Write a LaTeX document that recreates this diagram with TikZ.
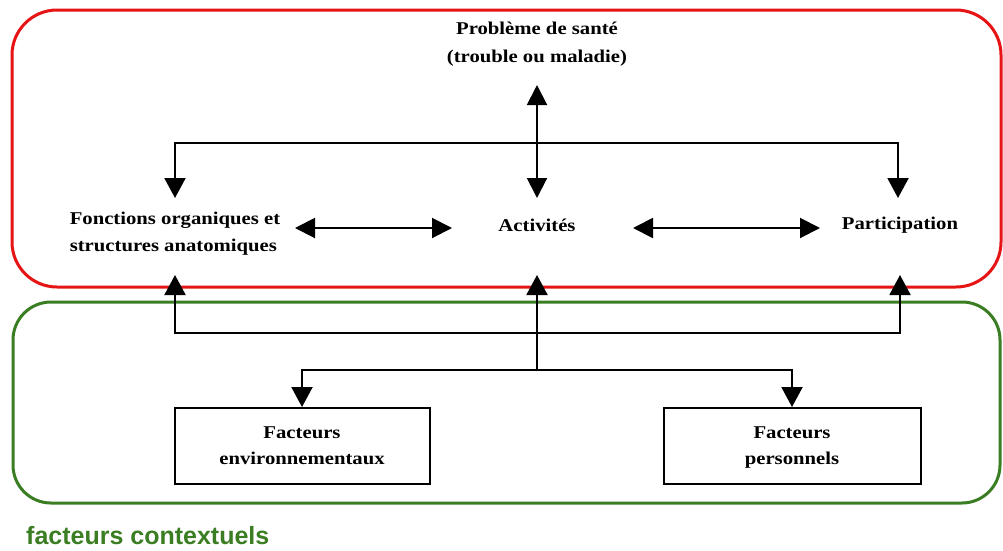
\documentclass[tikz,border=0pt]{standalone}
\usepackage{fontspec}
\setmainfont{Liberation Serif}
\newfontfamily\scanfont[FakeStretch=1.15]{Liberation Serif}
\newfontfamily\ctxfont{Liberation Sans}
\usetikzlibrary{arrows.meta}
\definecolor{framered}{RGB}{230,20,20}
\definecolor{framegreen}{RGB}{58,125,35}
\begin{document}
\begin{tikzpicture}[x=1pt,y=-1pt,
  conn/.style={line width=2pt, line join=miter},
  arr/.style={conn, -{Triangle[length=20pt,width=21pt]}},
  dbl/.style={conn, {Triangle[length=20pt,width=20pt]}-{Triangle[length=20pt,width=20pt]}},
  lbl/.style={font=\scanfont\bfseries\fontsize{18}{27}\selectfont, align=center, inner sep=0pt},
  fbox/.style={draw, line width=2pt, inner sep=0pt, minimum width=255pt, minimum height=76pt, font=\scanfont\bfseries\fontsize{18}{26}\selectfont, align=center},
  frame/.style={line width=3pt, rounded corners=45pt}]
\useasboundingbox (0,0) rectangle (1003,550);
% frames
\draw[frame, framered] (12,10) rectangle (1001,287);
\draw[frame, framegreen, rounded corners=38pt] (13,302) rectangle (1000,503);
% nodes
\node[lbl, font=\scanfont\bfseries\fontsize{18}{28}\selectfont] (sante) at (537,44) {Problème de santé\\(trouble ou maladie)};
\node[lbl, align=left] (fonc) at (175,234) {Fonctions organiques et\\structures anatomiques};
\node[lbl] (act) at (537,225) {Activités};
\node[lbl] (part) at (900,225) {Participation};
\node[fbox] (env) at (302,446) {Facteurs\strut\\environnementaux\strut};
\node[fbox, minimum width=257pt] (pers) at (792,446) {Facteurs\strut\\personnels\strut};
\node[font=\ctxfont\bfseries\fontsize{25}{28}\selectfont, text=framegreen, anchor=base west, inner sep=0pt] (ctx) at (26,544) {facteurs contextuels};
% coordinates
\coordinate (santeTip) at (537,85);
\coordinate (actTop) at (537,198);
\coordinate (topHub) at (537,143);
\coordinate (foncTop) at (175,198);
\coordinate (partTop) at (898,198);
\coordinate (foncR) at (295,228);
\coordinate (actL) at (452,228);
\coordinate (actR) at (633,228);
\coordinate (partL) at (820,228);
\coordinate (botHub) at (537,333);
\coordinate (foncBot) at (175,275);
\coordinate (actBot) at (537,275);
\coordinate (partBot) at (900,275);
\coordinate (split) at (537,370);
% connectors
\draw[dbl] (santeTip) -- (actTop);
\draw[arr] (topHub) -| (foncTop);
\draw[arr] (topHub) -| (partTop);
\draw[dbl] (foncR) -- (actL);
\draw[dbl] (actR) -- (partL);
\draw[arr] (botHub) -| (foncBot);
\draw[arr] (botHub) -| (partBot);
\draw[arr] (botHub) -- (actBot);
\draw[conn] (botHub) -- (split);
\draw[arr] (split) -| (env.north);
\draw[arr] (split) -| (pers.north);
\end{tikzpicture}
\end{document}
